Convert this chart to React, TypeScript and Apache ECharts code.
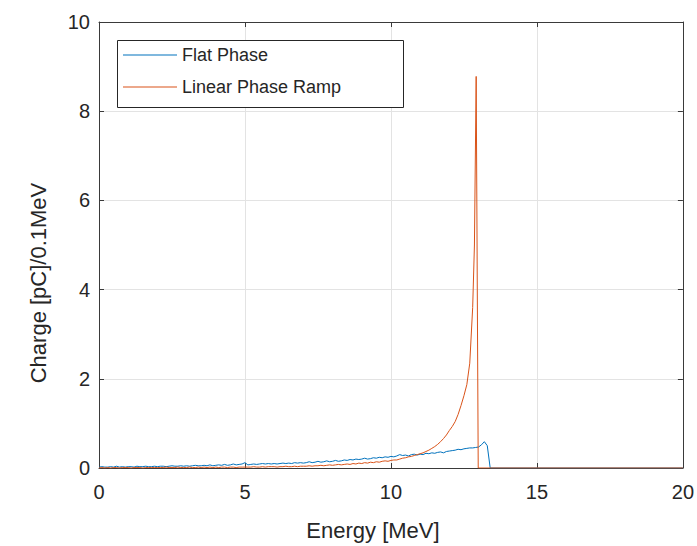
import React, { useEffect, useRef } from "react";
import * as echarts from "echarts";

// Energy bins: 0.1 MeV spacing starting at 0
const BIN_WIDTH = 0.1;

// Flat Phase: charge per 0.1 MeV, bins 0.0 .. 13.4 MeV
const flatCharge = [
  0.02, 0.03, 0.02, 0.02, 0.03, 0.02, 0.04, 0.02, 0.03, 0.02,
  0.03, 0.03, 0.02, 0.04, 0.03, 0.03, 0.04, 0.03, 0.03, 0.04,
  0.03, 0.04, 0.04, 0.03, 0.04, 0.05, 0.04, 0.04, 0.05, 0.04,
  0.05, 0.04, 0.05, 0.06, 0.05, 0.05, 0.06, 0.05, 0.07, 0.05,
  0.06, 0.07, 0.06, 0.08, 0.06, 0.07, 0.09, 0.07, 0.08, 0.09,
  0.12, 0.07, 0.08, 0.09, 0.08, 0.09, 0.1, 0.09, 0.1, 0.09,
  0.1, 0.09, 0.1, 0.11, 0.1, 0.11, 0.1, 0.12, 0.11, 0.12,
  0.11, 0.12, 0.14, 0.12, 0.13, 0.15, 0.13, 0.14, 0.16, 0.14,
  0.15, 0.17, 0.15, 0.16, 0.18, 0.17, 0.19, 0.18, 0.2, 0.19,
  0.2, 0.22, 0.2, 0.21, 0.23, 0.22, 0.24, 0.23, 0.25, 0.24,
  0.26, 0.25, 0.27, 0.3, 0.28, 0.29, 0.27, 0.3, 0.31, 0.29,
  0.31, 0.3, 0.33, 0.32, 0.34, 0.33, 0.35, 0.36, 0.34, 0.37,
  0.38, 0.39, 0.4, 0.42, 0.41, 0.43, 0.44, 0.45, 0.45, 0.46,
  0.47, 0.52, 0.59, 0.5, 0.0,
];
const flatTailEnergy = [20];
const flatTailCharge = [0];

// Linear Phase Ramp: charge per 0.1 MeV, bins 0.0 .. 12.8 MeV
const rampCharge = [
  0.0, 0.01, 0.0, 0.01, 0.0, 0.01, 0.01, 0.0, 0.01, 0.01,
  0.01, 0.0, 0.01, 0.01, 0.01, 0.0, 0.01, 0.01, 0.01, 0.01,
  0.01, 0.01, 0.01, 0.02, 0.01, 0.01, 0.01, 0.02, 0.01, 0.01,
  0.01, 0.02, 0.01, 0.01, 0.02, 0.01, 0.02, 0.01, 0.02, 0.01,
  0.02, 0.01, 0.02, 0.02, 0.01, 0.02, 0.02, 0.01, 0.02, 0.02,
  0.02, 0.02, 0.02, 0.03, 0.02, 0.02, 0.03, 0.02, 0.03, 0.03,
  0.03, 0.02, 0.03, 0.03, 0.04, 0.03, 0.03, 0.04, 0.03, 0.04,
  0.04, 0.04, 0.05, 0.04, 0.05, 0.05, 0.06, 0.05, 0.06, 0.07,
  0.06, 0.07, 0.08, 0.07, 0.08, 0.09, 0.08, 0.1, 0.09, 0.11,
  0.1, 0.12, 0.11, 0.13, 0.12, 0.14, 0.13, 0.15, 0.16, 0.15,
  0.17, 0.18, 0.18, 0.2, 0.22, 0.23, 0.25, 0.26, 0.28, 0.3,
  0.32, 0.34, 0.37, 0.4, 0.44, 0.48, 0.53, 0.59, 0.66, 0.74,
  0.84, 0.93, 1.04, 1.2, 1.4, 1.62, 1.87, 2.35, 3.6,
];
const rampTailEnergy = [12.86, 12.92, 12.99, 20];
const rampTailCharge = [5.0, 8.78, 0, 0];

const xTicks = { min: 0, max: 20, interval: 5 };
const yTicks = { min: 0, max: 10, interval: 2 };

const seriesNames = ["Flat Phase", "Linear Phase Ramp"];
const xTitle = "Energy [MeV]";
const yTitle = "Charge [pC]/0.1MeV";

const FONT = "'Liberation Sans', Arial, Helvetica, sans-serif";
const TEXT = "#262626";
const AXIS = "#3a3a3a";

function toPairs(values: number[], tailE: number[], tailQ: number[]) {
  const pts: number[][] = values.map((q, i) => [Number((i * BIN_WIDTH).toFixed(2)), q]);
  tailE.forEach((e, i) => pts.push([e, tailQ[i]]));
  return pts;
}

export default function App() {
  const ref = useRef<HTMLDivElement>(null);
  useEffect(() => {
    if (!ref.current) return;
    const chart = echarts.init(ref.current, undefined, { renderer: "svg" });
    const axisCommon = {
      type: "value" as const,
      axisLine: { show: true, onZero: false, lineStyle: { color: AXIS, width: 1 } },
      axisTick: { show: true, inside: true, length: 5, lineStyle: { color: AXIS } },
    };
    chart.setOption({
      animation: false,
      backgroundColor: "#ffffff",
      grid: { left: 99, right: 10, top: 22, bottom: 78, containLabel: false },
      legend: {
        orient: "vertical",
        left: 117,
        top: 46,
        padding: [0, 6],
        icon: "rect",
        itemWidth: 54,
        itemHeight: 1.2,
        itemGap: 14,
        z: 20,
        data: seriesNames,
        textStyle: { fontSize: 18, color: TEXT, fontFamily: FONT, lineHeight: 18 },
      },
      xAxis: [
        {
          ...axisCommon,
          position: "bottom",
          min: xTicks.min,
          max: xTicks.max,
          interval: xTicks.interval,
          axisLabel: { fontSize: 20, color: TEXT, fontFamily: FONT, margin: 14 },
          splitLine: { show: true, lineStyle: { color: "#e3e3e3", width: 1 } },
        },
        {
          ...axisCommon,
          position: "top",
          min: xTicks.min,
          max: xTicks.max,
          interval: xTicks.interval,
          axisLabel: { show: false },
          splitLine: { show: false },
        },
      ],
      yAxis: [
        {
          ...axisCommon,
          position: "left",
          min: yTicks.min,
          max: yTicks.max,
          interval: yTicks.interval,
          axisLabel: { fontSize: 20, color: TEXT, fontFamily: FONT, margin: 9 },
          splitLine: { show: true, lineStyle: { color: "#e3e3e3", width: 1 } },
        },
        {
          ...axisCommon,
          position: "right",
          min: yTicks.min,
          max: yTicks.max,
          interval: yTicks.interval,
          axisLabel: { show: false },
          splitLine: { show: false },
        },
      ],
      graphic: [
        {
          type: "rect",
          shape: { x: 117.5, y: 40.5, width: 286, height: 67 },
          style: { fill: "#ffffff", stroke: "#262626", lineWidth: 1 },
          z: 10,
        },
        {
          type: "text",
          x: 373,
          y: 530,
          style: {
            text: xTitle,
            fontSize: 22,
            fontFamily: FONT,
            fill: TEXT,
            textAlign: "center",
            textVerticalAlign: "middle",
          },
        },
        {
          type: "text",
          x: 38,
          y: 283,
          rotation: Math.PI / 2,
          style: {
            text: yTitle,
            fontSize: 22,
            fontFamily: FONT,
            fill: TEXT,
            textAlign: "center",
            textVerticalAlign: "middle",
          },
        },
      ],
      series: [
        {
          name: seriesNames[0],
          type: "line",
          data: toPairs(flatCharge, flatTailEnergy, flatTailCharge),
          showSymbol: false,
          symbol: "none",
          lineStyle: { color: "#0072BD", width: 1 },
          itemStyle: { color: "#0072BD" },
          z: 3,
        },
        {
          name: seriesNames[1],
          type: "line",
          data: toPairs(rampCharge, rampTailEnergy, rampTailCharge),
          showSymbol: false,
          symbol: "none",
          lineStyle: { color: "#D95319", width: 1 },
          itemStyle: { color: "#D95319" },
          z: 4,
        },
      ],
    });
    return () => chart.dispose();
  }, []);
  return (
    <div
      ref={ref}
      style={{ position: "absolute", left: 0, top: 0, width: 697, height: 546 }}
    />
  );
}
